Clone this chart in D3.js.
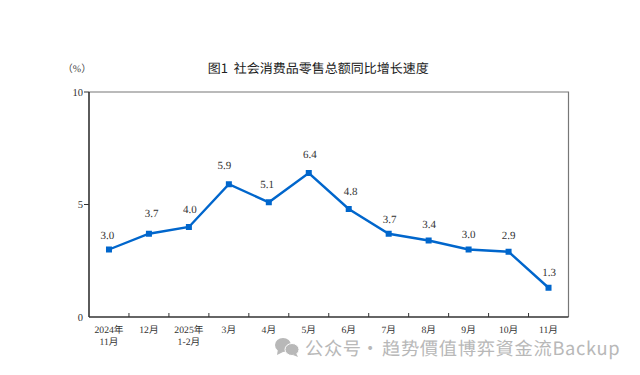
<!DOCTYPE html>
<html><head><meta charset="utf-8">
<script src="https://cdn.jsdelivr.net/npm/d3@7"></script>
<style>html,body{margin:0;padding:0;background:#fff}svg{display:block;text-rendering:geometricPrecision}</style>
</head><body><svg id="c" width="640" height="375"></svg>
<script>
const categories=["2024年|11月","12月","2025年|1-2月","3月","4月","5月","6月","7月","8月","9月","10月","11月"];
const values=[3.0,3.7,4.0,5.9,5.1,6.4,4.8,3.7,3.4,3.0,2.9,1.3];
const yTicks=[0,5,10];
const title="图1  社会消费品零售总额同比增长速度";
const unit="（%）";
const watermarkParts=["公众号","·","趋势價值博弈資金流Backup"];
const labelDx=[-1.7,2.7,1,-4.5,-1.7,1,2,1,.5,0,0,.5];
const labelDy=[-11,-17,-14,-15.5,-13.8,-15,-14,-11,-12.5,-12,-12.7,-12];
const serif="'Liberation Serif','Noto Sans CJK SC',serif";
const svg=d3.select("#c");
const x=d3.scaleBand().domain(categories).range([89,568.5]);
const y=d3.scaleLinear().domain([0,10]).range([317,92]);
const ink="#333";
svg.append("path").attr("d",`M${x.range()[0]},${y(10)}H${x.range()[1]}V${y(0)}`).attr("fill","none").attr("stroke","#777").attr("stroke-width",1.2);
const gx=svg.append("g").attr("transform",`translate(0,${y(0)})`);
gx.append("line").attr("x1",89).attr("x2",568.5).attr("stroke",ink).attr("stroke-width",1.6);
gx.selectAll(".t").data(categories.slice(1)).join("line").attr("x1",d=>x(d)).attr("x2",d=>x(d)).attr("y1",0).attr("y2",-4).attr("stroke",ink).attr("stroke-width",1);
const lab=gx.selectAll(".l").data(categories).join("text").attr("text-anchor","middle").attr("font-family",serif).attr("font-size",9.7).attr("fill","#333");
lab.each(function(d){const ps=d.split("|");const s=d3.select(this);ps.forEach((p,i)=>s.append("tspan").attr("x",x(d)+x.bandwidth()/2).attr("y",16+i*12).text(p));});
const gy=svg.append("g").attr("transform","translate(89,0)");
gy.append("line").attr("y1",y(10)).attr("y2",y(0)).attr("stroke",ink).attr("stroke-width",1.6);
gy.selectAll("line.t").data(yTicks.slice(1)).join("line").attr("class","t").attr("x1",0).attr("x2",-5).attr("y1",d=>y(d)).attr("y2",d=>y(d)).attr("stroke",ink).attr("stroke-width",1);
gy.selectAll("text").data(yTicks).join("text").attr("x",-6).attr("y",d=>y(d)+3.5).attr("text-anchor","end").attr("font-family",serif).attr("font-size",10.5).attr("fill","#333").text(d=>d);
const cx=(d,i)=>x(categories[i])+x.bandwidth()/2;
svg.append("path").attr("d",d3.line().x(cx).y(d=>y(d))(values)).attr("fill","none").attr("stroke","#0066cc").attr("stroke-width",2.4);
svg.selectAll("rect.m").data(values).join("rect").attr("class","m").attr("x",(d,i)=>cx(d,i)-3).attr("y",d=>y(d)-3).attr("width",6).attr("height",6).attr("fill","#0066cc");
svg.selectAll("text.v").data(values).join("text").attr("class","v").attr("x",(d,i)=>cx(d,i)+labelDx[i]).attr("y",(d,i)=>y(d)+labelDy[i]).attr("text-anchor","middle").attr("font-family",serif).attr("font-size",11).attr("fill","#333").text(d=>d.toFixed(1));
svg.append("text").attr("x",318.3).attr("y",73).attr("text-anchor","middle").style("white-space","pre").attr("font-family","'Noto Sans CJK SC',sans-serif").attr("font-size",13).attr("font-weight",400).attr("fill","#222").text(title);
svg.append("text").attr("x",77).attr("y",71.5).attr("text-anchor","middle").attr("font-family",serif).attr("font-size",10).attr("fill","#444").text(unit);
const wm=svg.append("g").attr("fill","#b8b8b8");
wm.append("ellipse").attr("cx",283).attr("cy",345).attr("rx",8).attr("ry",7);
wm.append("path").attr("d","M278,349l-1,6l6,-3z");
wm.append("ellipse").attr("cx",292).attr("cy",349.5).attr("rx",7).attr("ry",6).attr("stroke","#fff").attr("stroke-width",1);
wm.append("path").attr("d","M296,353l2,4l-5,-2z");
svg.selectAll("text.w").data(watermarkParts).join("text").attr("class","w").attr("x",(d,i)=>[305,361,382][i]).attr("y",354.5).attr("font-family","'Noto Sans CJK SC',sans-serif").attr("font-size",18.3).attr("letter-spacing",.65).attr("fill","#b8b8b8").text(d=>d);
</script></body></html>
